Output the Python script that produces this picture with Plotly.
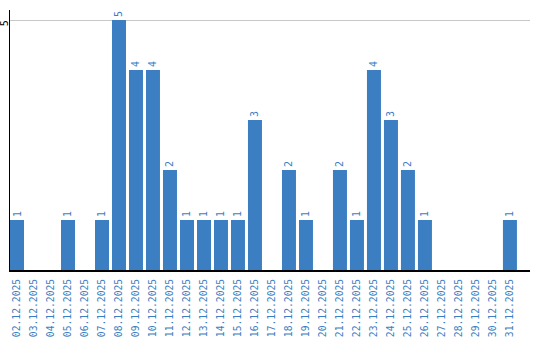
import plotly.graph_objects as go

dates = [f"{d:02d}.12.2025" for d in range(2, 32)]
counts = [1, 0, 0, 1, 0, 1, 5, 4, 4, 2, 1, 1, 1, 1, 3, 0, 2, 1, 0, 2, 1, 4, 3, 2, 1, 0, 0, 0, 0, 1]
y_ticks = [5]

blue = "#3b7ec2"
font_family = "DejaVu Sans Mono"
labels = [str(c) if c > 0 else "" for c in counts]

fig = go.Figure(go.Bar(
    x=dates, y=counts, marker=dict(color=blue, line=dict(width=0)),
    text=labels, textposition="outside", textangle=-90,
    textfont=dict(family=font_family, size=10, color=blue),
    cliponaxis=False, hoverinfo="skip",
))

fig.update_layout(
    width=540, height=340,
    margin=dict(l=10, r=10, t=10, b=70, autoexpand=False),
    paper_bgcolor="white", plot_bgcolor="white",
    bargap=3 / 17,
    showlegend=False,
    font=dict(family=font_family, size=10, color=blue),
)
fig.update_xaxes(
    type="category", range=[-7 / 17, 30.18], automargin=False,
    showline=True, linecolor="black", linewidth=2,
    showgrid=False, ticks="", tickangle=-90, ticklabelstandoff=3,
    tickfont=dict(family=font_family, size=9.7, color=blue),
)
fig.update_yaxes(
    range=[0, 5.2], automargin=False,
    showline=True, linecolor="black", linewidth=1,
    showgrid=True, gridcolor="#c8c8c8", gridwidth=1,
    zeroline=False, ticks="", tickvals=y_ticks, showticklabels=False,
)
for v in y_ticks:
    fig.add_annotation(
        x=-5.8 / 520, xref="paper", y=v - 0.06, yref="y",
        text=str(v), showarrow=False, textangle=-90,
        xanchor="center", yanchor="middle",
        font=dict(family=font_family, size=10, color="black"),
    )

fig.write_html("out.html")
